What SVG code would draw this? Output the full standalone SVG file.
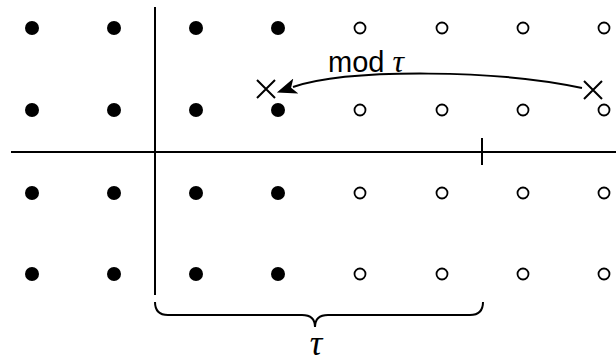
<svg xmlns="http://www.w3.org/2000/svg" width="616" height="362" viewBox="0 0 616 362">
<style>
.f{fill:#000}
.o{fill:#fff;stroke:#000;stroke-width:1.8}
.ln{stroke:#000;stroke-width:2;fill:none}
.t{font-family:"Liberation Sans",Arial,sans-serif;font-size:29px;fill:#000}
.g{font-family:"Liberation Serif","Times New Roman",serif;font-style:italic;fill:#000}
</style>
<defs>
<marker id="ah" viewBox="0 0 20 16" refX="3" refY="8" markerWidth="20" markerHeight="16" markerUnits="userSpaceOnUse" orient="auto">
<path d="M0 0 L20 8 L0 16 L5 8 Z" fill="#000"/>
</marker>
</defs>
<g id="axes">
<line class="ln" x1="155" y1="7" x2="155" y2="295"/>
<line class="ln" x1="11" y1="152" x2="616" y2="152"/>
<line class="ln" x1="482" y1="138" x2="482" y2="165"/>
</g>
<g id="filled">
<circle class="f" cx="32" cy="28" r="7"/><circle class="f" cx="114" cy="28" r="7"/><circle class="f" cx="196" cy="28" r="7"/><circle class="f" cx="278" cy="28" r="7"/>
<circle class="f" cx="32" cy="110" r="7"/><circle class="f" cx="114" cy="110" r="7"/><circle class="f" cx="196" cy="110" r="7"/><circle class="f" cx="278" cy="110" r="7"/>
<circle class="f" cx="32" cy="193" r="7"/><circle class="f" cx="114" cy="193" r="7"/><circle class="f" cx="196" cy="193" r="7"/><circle class="f" cx="278" cy="193" r="7"/>
<circle class="f" cx="32" cy="274" r="7"/><circle class="f" cx="114" cy="274" r="7"/><circle class="f" cx="196" cy="274" r="7"/><circle class="f" cx="278" cy="274" r="7"/>
</g>
<g id="open">
<circle class="o" cx="360" cy="28" r="5.5"/><circle class="o" cx="442" cy="28" r="5.5"/><circle class="o" cx="523" cy="28" r="5.5"/><circle class="o" cx="604" cy="28" r="5.5"/>
<circle class="o" cx="360" cy="110" r="5.5"/><circle class="o" cx="442" cy="110" r="5.5"/><circle class="o" cx="523" cy="110" r="5.5"/><circle class="o" cx="604" cy="110" r="5.5"/>
<circle class="o" cx="360" cy="193" r="5.5"/><circle class="o" cx="442" cy="193" r="5.5"/><circle class="o" cx="523" cy="193" r="5.5"/><circle class="o" cx="604" cy="193" r="5.5"/>
<circle class="o" cx="360" cy="274" r="5.5"/><circle class="o" cx="442" cy="274" r="5.5"/><circle class="o" cx="523" cy="274" r="5.5"/><circle class="o" cx="604" cy="274" r="5.5"/>
</g>
<g id="cross-left">
<path class="ln" d="M257 80 L275 98 M275 80 L257 98"/>
</g>
<g id="cross-right">
<path class="ln" d="M584 81 L602 99 M602 81 L584 99"/>
</g>
<g id="connectors">
<path class="ln" d="M582 88 C 500 70, 350 68, 293 87" marker-end="url(#ah)"/>
</g>
<g id="label-mod">
<text class="t" x="328" y="72">mod <tspan class="g" font-size="32">τ</tspan></text>
</g>
<g id="brace">
<path class="ln" d="M155 302 Q155 315 168 315 L302 315 Q315 315 315 327 Q315 315 328 315 L470 315 Q483 315 483 302"/>
<text class="g" x="316" y="355" font-size="35" text-anchor="middle">τ</text>
</g>
</svg>
